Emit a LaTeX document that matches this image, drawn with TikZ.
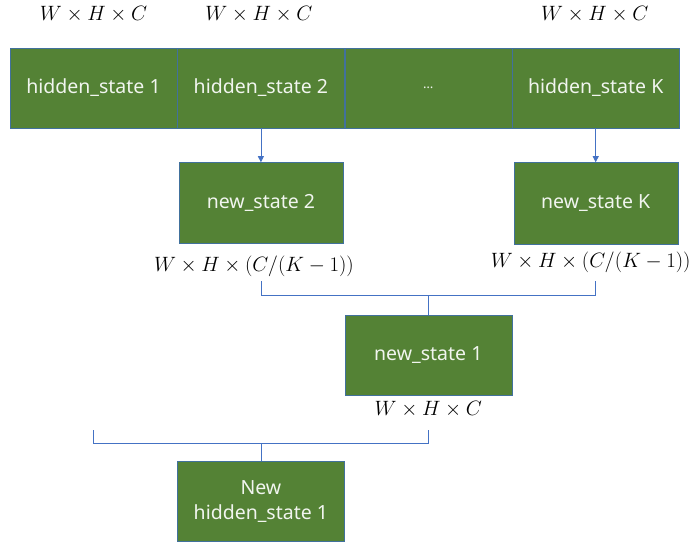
\documentclass[tikz,border=0pt]{standalone}
\usepackage[no-math]{fontspec}
\usetikzlibrary{positioning, calc, arrows.meta}
\newfontfamily\boxfont{Noto Sans}
\definecolor{boxgreen}{HTML}{548235}
\definecolor{boxedge}{HTML}{41719C}
\definecolor{linkblue}{HTML}{4472C4}
\tikzstyle{cell} = [rectangle, draw=boxedge, fill=boxgreen, minimum width=167pt, minimum height=80pt, inner sep=0pt, align=center, text=white!92!boxgreen, font=\boxfont\fontsize{19.5}{25}\selectfont]
\tikzstyle{dim} = [inner sep=1pt, font=\fontsize{21}{25}\selectfont]
\tikzstyle{link} = [draw=linkblue, line width=0.8pt]
\tikzstyle{arrow} = [link, -{Triangle[length=6pt,width=6pt]}]

\begin{document}
\begin{tikzpicture}[x=1pt, y=-1pt]
\useasboundingbox (0,0) rectangle (693,544);
% Row of hidden states
\node (hs1) [cell] at (93.5,88) {hidden\_state 1};
\node (hs2) [cell, right=0pt of hs1] {hidden\_state 2};
\node (hsdots) [cell, right=0pt of hs2] {\fontsize{13}{15}\selectfont\textellipsis};
\node (hsK) [cell, right=0pt of hsdots] {hidden\_state K};
\node (dimhs1) [dim, above=24pt of hs1] {$W\times H\times C$};
\node (dimhs2) [dim, above=24pt of hs2, xshift=-2pt] {$W\times H\times C$};
\node (dimhsK) [dim, above=24pt of hsK, xshift=-1pt] {$W\times H\times C$};

% Split states
\node (ns2) [cell, below=34pt of hs2, minimum width=164pt, minimum height=81pt] {new\_state 2};
\node (nsK) [cell, below=34pt of hsK, minimum width=164pt, minimum height=82pt] {new\_state K};
\node (dimns2) [dim, below=11pt of ns2, xshift=-7pt] {$W\times H\times(C/(K-1))$};
\node (dimnsK) [dim, below=6pt of nsK, xshift=-5pt] {$W\times H\times(C/(K-1))$};
\draw [arrow] (hs2) -- (ns2);
\draw [arrow] (hsK) -- (nsK);

% First merge
\coordinate (split2) at (ns2 |- 0,281);
\coordinate (splitK) at (nsK |- 0,281);
\draw [link] (split2) -- ++(0,14) -| (splitK);
\coordinate (join1) at ($(split2)!0.5!(splitK) + (0,14)$);
\node (ns1) [cell, below=20pt of join1] {new\_state 1};
\node (dimns1) [dim, below=5pt of ns1] {$W\times H\times C$};
\draw [link] (join1) -- (ns1);

% Second merge
\coordinate (split1) at (hs1 |- 0,430);
\coordinate (split3) at (ns1 |- 0,430);
\draw [link] (split1) -- ++(0,13) -| (split3);
\coordinate (join2) at ($(split1)!0.5!(split3) + (0,13)$);
\node (nhs1) [cell, below=18pt of join2] {New\\hidden\_state 1};
\draw [link] (join2) -- (nhs1);
\end{tikzpicture}
\end{document}
